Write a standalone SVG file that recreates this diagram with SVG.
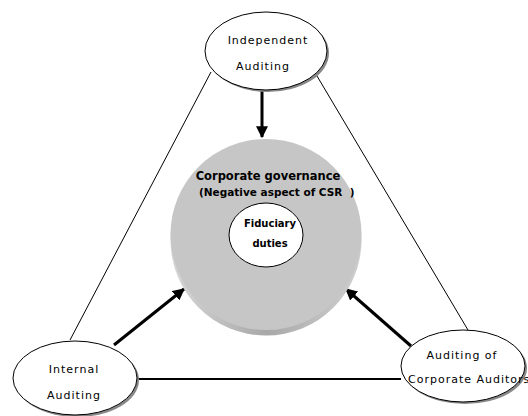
<svg xmlns="http://www.w3.org/2000/svg" width="528" height="416" viewBox="0 0 528 416">
  <defs>
    <marker id="ah" viewBox="0 0 10 10" refX="9" refY="5" markerWidth="4" markerHeight="4" orient="auto" markerUnits="strokeWidth">
      <path d="M0,0 L10,5 L0,10 z" fill="#000"/>
    </marker>
    <linearGradient id="rim" x1="0" y1="0" x2="1" y2="0">
      <stop offset="0" stop-color="#d8d8d8"/>
      <stop offset="0.5" stop-color="#a8a8a8"/>
      <stop offset="1" stop-color="#d0d0d0"/>
    </linearGradient>
  </defs>
  <style>
    .ell { fill: #fff; stroke: #000; stroke-width: 1; }
    .shd { fill: #888; }
    .lbl { font-family: "DejaVu Sans", Verdana, sans-serif; font-size: 11px; letter-spacing: 1px; fill: #000; }
    .bold { font-family: "DejaVu Sans", Verdana, sans-serif; font-weight: bold; fill: #000; }
    .thin { stroke: #000; stroke-width: 1; fill: none; }
    .arr { stroke: #000; stroke-width: 3; fill: none; marker-end: url(#ah); }
  </style>
  <rect width="528" height="416" fill="#fff"/>

  <g id="connectors">
    <line class="thin" x1="211" y1="72" x2="70" y2="340"/>
    <line class="thin" x1="317" y1="76" x2="468" y2="330"/>
    <line x1="137" y1="379" x2="401" y2="379" stroke="#000" stroke-width="2"/>
    <line class="arr" x1="262" y1="91" x2="262" y2="137"/>
    <line class="arr" x1="114" y1="345" x2="184" y2="289"/>
    <line class="arr" x1="411" y1="346" x2="346" y2="289"/>
  </g>

  <g id="corporate-governance">
    <circle cx="266" cy="240" r="95.5" fill="url(#rim)"/>
    <circle cx="266" cy="234.5" r="95.5" fill="#c6c6c6"/>
    <text class="bold" font-size="11.5" x="268" y="180" text-anchor="middle">Corporate governance</text>
    <text class="bold" font-size="10.5" x="199" y="196" xml:space="preserve">(Negative aspect of CSR  )</text>
  </g>

  <g id="fiduciary-duties">
    <ellipse class="ell" cx="266" cy="235" rx="37" ry="32"/>
    <text class="bold" font-size="10" x="270" y="227" text-anchor="middle">Fiduciary</text>
    <text class="bold" font-size="10" x="270" y="247" text-anchor="middle">duties</text>
  </g>

  <g id="independent-auditing">
    <ellipse class="shd" cx="268" cy="53" rx="61" ry="39"/>
    <ellipse class="ell" cx="266" cy="51" rx="61" ry="39"/>
    <text class="lbl" x="268" y="44" text-anchor="middle">Independent</text>
    <text class="lbl" x="263" y="70" text-anchor="middle">Auditing</text>
  </g>

  <g id="internal-auditing">
    <ellipse class="shd" cx="77" cy="380" rx="62" ry="37"/>
    <ellipse class="ell" cx="75" cy="378" rx="62" ry="37"/>
    <text class="lbl" x="74" y="373" text-anchor="middle">Internal</text>
    <text class="lbl" x="74" y="399" text-anchor="middle">Auditing</text>
  </g>

  <g id="auditing-of-corporate-auditors">
    <ellipse class="shd" cx="465" cy="368" rx="62" ry="36"/>
    <ellipse class="ell" cx="463" cy="366" rx="62" ry="36"/>
    <text class="lbl" x="462" y="359" text-anchor="middle">Auditing of</text>
    <text class="lbl" x="408" y="383">Corporate Auditors</text>
  </g>
</svg>
